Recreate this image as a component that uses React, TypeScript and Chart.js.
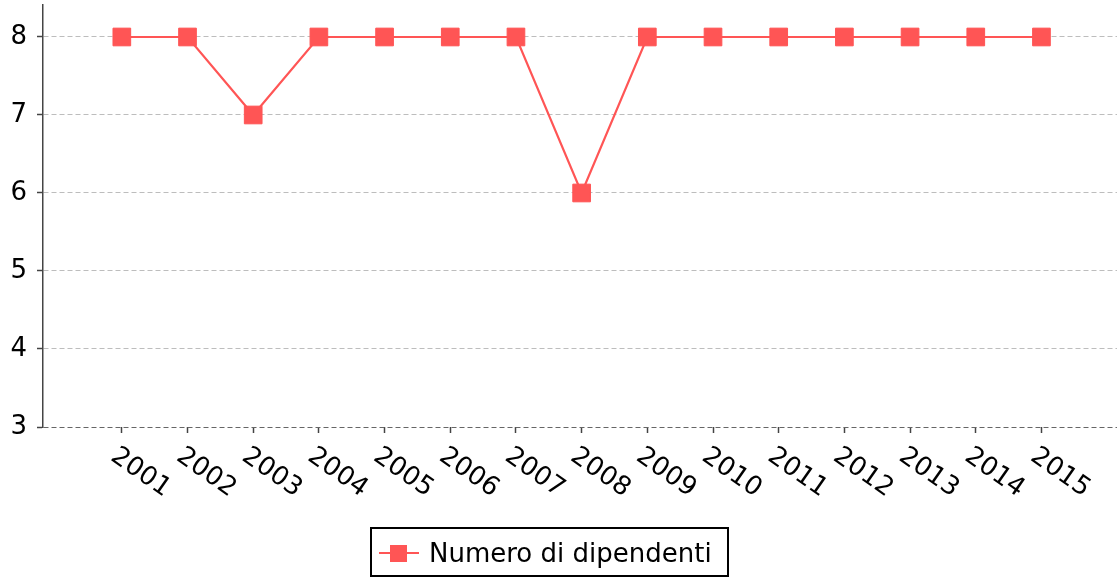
import React, { useEffect, useRef } from "react";
import { Chart, registerables } from "chart.js";

Chart.register(...registerables);

const years = [2001, 2002, 2003, 2004, 2005, 2006, 2007, 2008, 2009, 2010, 2011, 2012, 2013, 2014, 2015];
const dependents = [8, 8, 7, 8, 8, 8, 8, 6, 8, 8, 8, 8, 8, 8, 8];
const yTicks = [3, 4, 5, 6, 7, 8];
const seriesLabel = "Numero di dipendenti";

const COLOR = "#ff5555";
const FONT = "'DejaVu Sans'";
const FS = 26;

export default function App() {
  const ref = useRef<HTMLCanvasElement>(null);

  useEffect(() => {
    if (!ref.current) return;

    const rotatedLabels = {
      id: "rotatedLabels",
      afterDraw(chart: any) {
        const ctx = chart.ctx;
        const xs = chart.scales.x;
        ctx.save();
        ctx.font = `${FS}px ${FONT}`;
        ctx.fillStyle = "#000";
        ctx.textAlign = "left";
        ctx.textBaseline = "top";
        years.forEach((yr) => {
          const px = xs.getPixelForValue(yr);
          ctx.save();
          ctx.translate(px - 1, chart.chartArea.bottom + 16);
          ctx.rotate((35 * Math.PI) / 180);
          ctx.fillText(String(yr), 0, 0);
          ctx.restore();
        });
        ctx.restore();
      },
    };

    const boxedLegend = {
      id: "boxedLegend",
      afterDraw(chart: any) {
        const ctx = chart.ctx;
        ctx.save();
        ctx.lineWidth = 2;
        ctx.strokeStyle = "#000";
        ctx.strokeRect(371, 528, 357, 48);
        ctx.strokeStyle = COLOR;
        ctx.lineWidth = 2;
        ctx.beginPath();
        ctx.moveTo(379, 553);
        ctx.lineTo(419, 553);
        ctx.stroke();
        ctx.fillStyle = COLOR;
        ctx.fillRect(390, 545, 17, 17);
        ctx.fillStyle = "#000";
        ctx.font = `${FS}px ${FONT}`;
        ctx.textAlign = "left";
        ctx.textBaseline = "alphabetic";
        ctx.fillText(seriesLabel, 429, 562);
        ctx.restore();
      },
    };

    const chart = new Chart(ref.current, {
      type: "line",
      data: {
        datasets: [
          {
            label: seriesLabel,
            data: years.map((y, i) => ({ x: y, y: dependents[i] })),
            borderColor: COLOR,
            backgroundColor: COLOR,
            borderWidth: 2.2,
            pointStyle: "rect",
            pointRadius: 12.5,
            pointBorderWidth: 1,
            pointBorderColor: COLOR,
            pointBackgroundColor: COLOR,
            tension: 0,
          },
        ],
      },
      options: {
        animation: false,
        responsive: false,
        maintainAspectRatio: false,
        layout: { autoPadding: false, padding: { top: 5, right: 1, left: 0, bottom: 0 } },
        plugins: {
          legend: { display: false },
          tooltip: { enabled: false },
        },
        scales: {
          x: {
            type: "linear",
            min: 1999.8,
            max: 2016.15,
            afterBuildTicks: (s: any) => {
              s.ticks = years.map((v) => ({ value: v }));
            },
            afterFit: (s: any) => {
              s.height = 152;
              s.paddingLeft = 0;
              s.paddingRight = 0;
            },
            ticks: { display: false },
            grid: {
              display: true,
              drawOnChartArea: false,
              drawTicks: true,
              tickLength: 6,
              tickColor: "#444",
              tickWidth: 1.5,
            },
            border: { display: false },
          },
          y: {
            type: "linear",
            min: 3,
            max: 8.41,
            afterBuildTicks: (s: any) => {
              s.ticks = yTicks.map((v) => ({ value: v }));
            },
            afterFit: (s: any) => {
              s.width = 43;
              s.paddingTop = 0;
              s.paddingBottom = 0;
            },
            ticks: {
              color: "#000",
              font: { family: "DejaVu Sans", size: FS },
              padding: 10,
            },
            grid: {
              color: (c: any) => (c.tick && c.tick.value === 3 ? "#666" : "#bdbdbd"),
              lineWidth: 1,
              tickLength: 6,
              tickColor: "#444",
              tickWidth: 1.5,
            },
            border: { display: true, color: "#444", width: 1.5, dash: [5, 3] },
          },
        },
      },
      plugins: [rotatedLabels, boxedLegend],
    });

    return () => chart.destroy();
  }, []);

  return (
    <div style={{ position: "absolute", left: 0, top: 0, width: 1118, height: 579, background: "#fff" }}>
      <canvas ref={ref} width={1118} height={579} style={{ display: "block" }} />
    </div>
  );
}
